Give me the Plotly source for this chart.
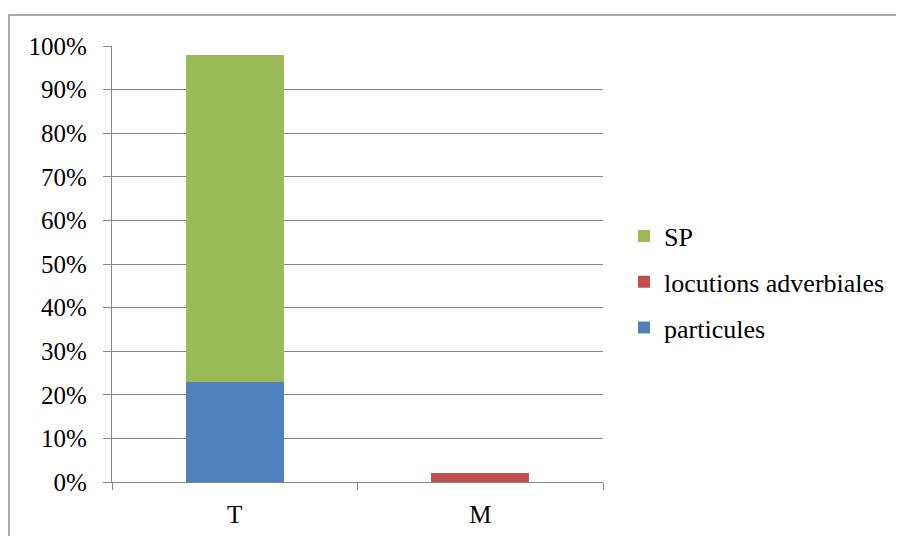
import plotly.graph_objects as go

categories = ["T", "M"]
particules = [23, 0]
locutions_adverbiales = [0, 2]
sp = [75, 0]
y_ticks = [0, 10, 20, 30, 40, 50, 60, 70, 80, 90, 100]
y_tick_labels = [f"{v}%" for v in y_ticks]

FONT = "Times New Roman"
OFF = 8  # page body margin
W, H = 904 - OFF, 536 - OFF
L, R, T, B = 112 - OFF, 603 - OFF, 46 - OFF, 482 - OFF

fig = go.Figure()
series = [
    ("particules", particules, "#4F81BD", 3),
    ("locutions adverbiales", locutions_adverbiales, "#C0504D", 2),
    ("SP", sp, "#9BBB59", 1),
]
for name, vals, col, rank in series:
    fig.add_trace(go.Bar(
        x=categories, y=vals, name=name, marker=dict(color=col, line=dict(width=0)),
        legendgroup=name, legendrank=rank, width=0.4,
    ))

pw, ph = R - L, B - T
fig.add_shape(type="rect", xref="paper", yref="paper",
              x0=(9 - OFF - L) / pw, x1=(902 - OFF - L) / pw,
              y0=(B - 560) / ph, y1=(B - (15 - OFF)) / ph,
              line=dict(color="#8C8C8C", width=1.5), fillcolor="rgba(0,0,0,0)", layer="below")

fig.update_layout(
    width=W, height=H,
    margin=dict(l=L, r=W - R, t=T, b=H - B, pad=0, autoexpand=False),
    barmode="stack",
    bargap=0.6,
    paper_bgcolor="white", plot_bgcolor="white",
    font=dict(family=FONT, size=25, color="black"),
    legend=dict(traceorder="grouped", x=(664 - OFF - 40 - L) / pw, xanchor="left",
                y=(B - (282 - OFF)) / ph, yanchor="middle",
                tracegroupgap=9, font=dict(size=26, family=FONT, color="black"), itemwidth=30,
                bgcolor="rgba(0,0,0,0)"),
    showlegend=True,
)
fig.update_yaxes(range=[0, 100], tickvals=y_ticks, ticktext=y_tick_labels,
                 showgrid=True, gridcolor="#868686", gridwidth=1.3,
                 showline=True, linecolor="#868686", linewidth=1.3,
                 ticks="outside", ticklen=8, tickcolor="#868686", tickwidth=1.3,
                 ticklabelstandoff=11, zeroline=False, tickfont=dict(family=FONT, size=25))
fig.update_xaxes(showline=True, linecolor="#868686", linewidth=1.3,
                 ticks="outside", ticklen=7, tickcolor="#868686", tickwidth=1.3,
                 tickson="boundaries", showgrid=False, ticklabelstandoff=10,
                 tickfont=dict(family=FONT, size=25))

fig.write_html("out.html")
